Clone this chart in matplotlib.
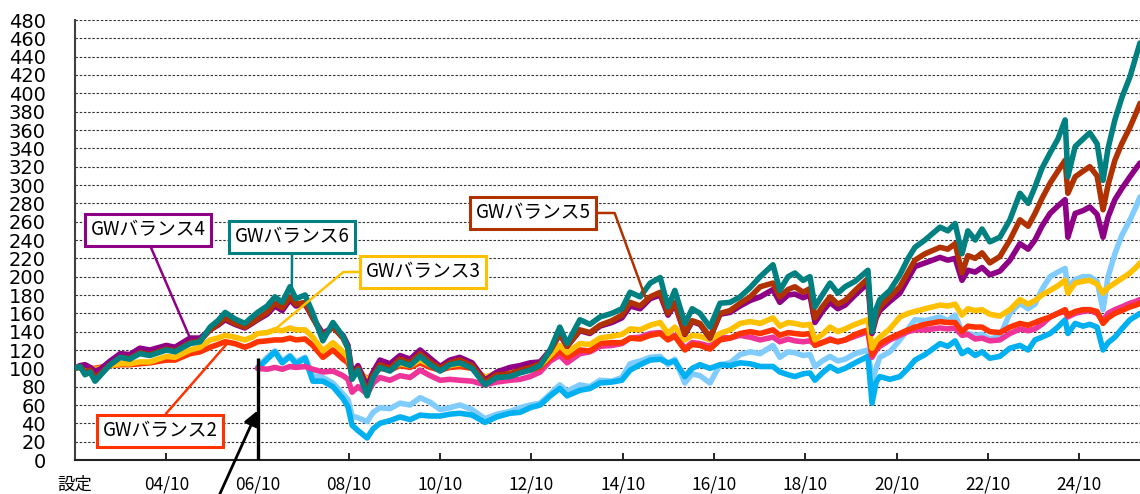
import numpy as np
import matplotlib
matplotlib.use('Agg')
import matplotlib.pyplot as plt

plt.rcParams['font.family'] = ['Noto Sans CJK JP', 'DejaVu Sans']

# years since inception (Oct 2002)
years = [0.00, 0.11, 0.22, 0.33, 0.44, 0.55, 0.77, 0.99, 1.20, 1.42, 1.64, 2.00, 2.19, 2.52, 2.74, 2.96,
         3.13, 3.29, 3.50, 3.72, 3.88, 4.00, 4.21, 4.38, 4.54, 4.71, 4.84, 5.04, 5.21, 5.43, 5.65, 5.87,
         5.98, 6.07, 6.20, 6.40, 6.53, 6.68, 6.90, 7.12, 7.34, 7.56, 7.78, 8.00, 8.21, 8.43, 8.70, 8.98,
         9.24, 9.53, 9.75, 9.97, 10.19, 10.41, 10.62, 10.78, 11.06, 11.28, 11.50, 11.76, 11.98, 12.16,
         12.38, 12.60, 12.82, 12.99, 13.14, 13.36, 13.52, 13.69, 13.91, 14.13, 14.35, 14.57, 14.79, 15.01,
         15.29, 15.44, 15.62, 15.77, 15.95, 16.10, 16.21, 16.37, 16.54, 16.71, 16.87, 17.09, 17.37, 17.46,
         17.55, 17.63, 17.85, 18.07, 18.25, 18.40, 18.62, 18.95, 19.12, 19.28, 19.43, 19.56, 19.72, 19.87,
         20.04, 20.26, 20.48, 20.70, 20.88, 21.03, 21.18, 21.36, 21.53, 21.69, 21.75, 21.91, 22.08, 22.23,
         22.39, 22.52, 22.63, 22.78, 22.93, 23.11, 23.24, 23.33]

gw6 = [100, 102, 93, 96, 86, 92, 104, 112, 110, 116, 114, 120, 118, 127, 129, 145,
       152, 161, 154, 149, 156, 161, 168, 178, 172, 189, 176, 180, 160, 130, 150, 135,
       122, 88, 98, 70, 90, 101, 97, 107, 103, 113, 104, 97, 104, 106, 100, 82,
       90, 91, 95, 98, 103, 120, 145, 127, 153, 148, 156, 160, 165, 183,
       178, 193, 199, 167, 185, 149, 165, 160, 145, 171, 172, 178, 188, 200,
       213, 185, 200, 204, 196, 200, 167, 180, 193, 182, 189, 195, 207, 140,
       165, 175, 185, 202, 220, 232, 240, 254, 250, 258, 225, 250, 240, 252,
       238, 243, 262, 291, 280, 298, 318, 335, 350, 371, 309, 342, 350, 357,
       345, 305, 340, 371, 395, 418, 440, 455]

gw5 = [100, 102, 96, 98, 90, 94, 104, 112, 111, 117, 115, 121, 119, 128, 130, 142,
       148, 155, 149, 145, 150, 154, 161, 171, 166, 178, 170, 172, 155, 135, 145, 133,
       122, 90, 100, 74, 92, 104, 100, 110, 106, 116, 107, 100, 106, 109, 103, 85,
       93, 94, 98, 101, 105, 119, 138, 124, 142, 139, 147, 152, 158, 172,
       168, 178, 183, 160, 172, 138, 152, 149, 134, 160, 163, 171, 178, 189,
       193, 178, 186, 189, 183, 187, 155, 167, 178, 170, 174, 185, 198, 140,
       158, 167, 178, 189, 205, 218, 225, 232, 230, 236, 204, 223, 220, 226,
       215, 222, 240, 262, 255, 269, 285, 302, 315, 327, 291, 309, 315, 320,
       310, 273, 300, 327, 345, 363, 378, 389]

gw4 = [100, 103, 104, 101, 97, 99, 108, 116, 115, 122, 120, 125, 123, 133, 133, 142,
       147, 153, 148, 144, 149, 153, 159, 168, 163, 175, 168, 170, 155, 138, 145, 136,
       125, 95, 103, 80, 96, 109, 105, 114, 110, 120, 111, 102, 109, 112, 106, 87,
       96, 101, 103, 106, 107, 120, 137, 124, 141, 138, 146, 150, 155, 168,
       165, 176, 180, 158, 170, 137, 151, 148, 133, 159, 161, 168, 174, 178,
       186, 172, 180, 181, 177, 180, 150, 162, 172, 165, 169, 180, 193, 138,
       155, 163, 173, 182, 198, 211, 215, 221, 218, 220, 196, 207, 205, 210,
       202, 206, 218, 236, 230, 240, 255, 269, 277, 284, 243, 269, 272, 276,
       268, 243, 265, 284, 296, 309, 318, 324]

gw3 = [100, 101, 101, 100, 99, 100, 103, 105, 105, 107, 107, 113, 112, 120, 123, 131,
       133, 136, 134, 131, 134, 138, 139, 142, 141, 144, 142, 142, 134, 119, 128, 118,
       112, 96, 100, 86, 95, 102, 100, 105, 103, 109, 104, 100, 103, 105, 102, 90,
       95, 96, 98, 100, 103, 114, 125, 117, 127, 126, 133, 135, 137, 143,
       142, 147, 150, 138, 145, 131, 136, 135, 131, 138, 142, 149, 151, 149,
       155, 146, 150, 149, 147, 148, 131, 137, 145, 140, 143, 148, 153, 122,
       130, 134, 143, 156, 160, 162, 165, 169, 168, 170, 158, 165, 163, 164,
       159, 157, 164, 175, 170, 174, 180, 185, 190, 196, 182, 193, 195, 196,
       192, 182, 188, 193, 198, 204, 210, 215]

gw2 = [100, 101, 101, 100, 100, 101, 103, 104, 104, 105, 106, 109, 109, 116, 118, 123,
       126, 129, 127, 123, 126, 129, 130, 131, 131, 133, 131, 132, 125, 112, 120, 110,
       106, 95, 97, 88, 94, 100, 98, 103, 101, 106, 101, 98, 101, 102, 100, 90,
       94, 95, 96, 98, 101, 111, 119, 112, 120, 119, 127, 128, 128, 133,
       132, 136, 138, 131, 135, 120, 126, 125, 121, 131, 133, 138, 140, 138,
       142, 136, 139, 138, 137, 138, 125, 128, 131, 129, 131, 137, 142, 115,
       122, 127, 133, 138, 142, 145, 148, 151, 150, 150, 140, 146, 145, 145,
       140, 139, 145, 149, 147, 150, 153, 156, 160, 164, 158, 162, 164, 164,
       162, 149, 155, 160, 163, 167, 169, 171]

N = None
pink = [N] * 21 + [
       100, 99, 101, 99, 102, 101, 102, 99, 96, 97, 92,
       88, 74, 80, 72, 84, 90, 87, 92, 90, 98, 92, 87, 88, 87, 86, 82,
       85, 87, 88, 91, 96, 108, 114, 106, 116, 118, 124, 125, 127, 133,
       134, 138, 139, 132, 136, 122, 128, 127, 124, 134, 133, 136, 134, 131,
       134, 129, 132, 130, 129, 130, 126, 128, 132, 129, 131, 135, 140, 112,
       120, 124, 131, 136, 140, 142, 142, 144, 143, 144, 136, 137, 132, 133,
       130, 131, 138, 143, 141, 143, 148, 156, 160, 162, 156, 160, 162, 163,
       160, 152, 160, 164, 167, 171, 173, 175]

light_blue = [N] * 21 + [
       101, 112, 119, 108, 114, 107, 112, 92, 90, 84, 72,
       66, 48, 46, 42, 52, 57, 56, 62, 60, 68, 63, 55, 57, 60, 55, 45,
       50, 53, 57, 60, 62, 72, 82, 75, 82, 80, 87, 86, 90, 105,
       108, 112, 113, 104, 110, 84, 94, 92, 84, 104, 106, 115, 118, 116,
       125, 112, 118, 117, 114, 115, 102, 108, 113, 108, 110, 116, 120, 86,
       100, 112, 118, 131, 143, 153, 152, 156, 152, 158, 140, 138, 136, 137,
       132, 135, 160, 171, 165, 170, 186, 200, 205, 209, 188, 197, 200, 200,
       195, 164, 200, 225, 245, 262, 276, 287]

blue = [N] * 21 + [
       100, 110, 118, 106, 113, 105, 111, 86, 86, 80, 67,
       58, 38, 32, 24, 34, 40, 43, 47, 44, 49, 48, 48, 50, 51, 49, 41,
       47, 51, 52, 57, 60, 70, 78, 70, 76, 78, 84, 85, 87, 98,
       104, 109, 110, 106, 108, 91, 100, 104, 100, 104, 103, 106, 105, 102,
       102, 96, 93, 91, 94, 95, 87, 95, 102, 97, 100, 106, 113, 62,
       85, 91, 88, 91, 100, 109, 115, 127, 124, 130, 116, 120, 114, 118,
       111, 113, 122, 125, 120, 131, 134, 138, 145, 153, 138, 149, 146, 148,
       145, 120, 128, 134, 143, 153, 157, 160]

tick_pos = [0, 2, 4, 6, 8, 10, 12, 14, 16, 18, 20, 22]
tick_labels = ['設定', '04/10', '06/10', '08/10', '10/10', '12/10', '14/10',
               '16/10', '18/10', '20/10', '22/10', '24/10']
y_ticks = list(range(0, 481, 20))

col6 = '#008080'
col5 = '#B03200'
col4 = '#8E0085'
col3 = '#FFC000'
col2 = '#FF3300'
colp = '#EE3399'
collb = '#80CCFF'
colb = '#00B0F0'

x = np.array(years, dtype=float)

fig = plt.figure(figsize=(11.4, 4.94), dpi=100)
ax = fig.add_axes([75 / 1140, 34 / 494, 1065 / 1140, 440 / 494])

lw = 4.0
series = [(light_blue, collb), (blue, colb), (pink, colp), (gw2, col2), (gw3, col3),
          (gw4, col4), (gw5, col5), (gw6, col6)]
for vals, c in series:
    y = np.array([np.nan if v is None else v for v in vals], dtype=float)
    ax.plot(x, y, color=c, lw=lw, solid_joinstyle='round', solid_capstyle='round', zorder=3)

ax.set_xlim(0, years[-1])
ax.set_ylim(0, 480)
ax.set_yticks(y_ticks)
ax.set_yticklabels([str(v) for v in y_ticks], fontsize=14,
                   family=['Liberation Sans Narrow', 'DejaVu Sans'])
ax.set_xticks(tick_pos)
ax.set_xticklabels(tick_labels, fontsize=12.5)
ax.tick_params(axis='y', length=0, pad=21)
ax.tick_params(axis='x', direction='in', length=5, width=1.2, pad=11)
for v in y_ticks[1:]:
    ax.axhline(v, color='#333333', lw=0.8, ls=(0, (2.2, 1.6)), zorder=1)
for s in ['top', 'right']:
    ax.spines[s].set_visible(False)
ax.spines['left'].set_color('#404040')
ax.spines['left'].set_linewidth(1.5)
ax.spines['bottom'].set_color('#222222')
ax.spines['bottom'].set_linewidth(1.5)

# start marker line at 06/10
start = years[21]
ax.plot([start, start], [0, 111], color='black', lw=2.4, zorder=5, solid_capstyle='butt')
ax.annotate('', xy=(4.0, 54), xytext=(2.91, -66), xycoords='data', textcoords='data',
            arrowprops=dict(arrowstyle='-|>', color='black', lw=2, mutation_scale=22,
                            shrinkA=0, shrinkB=0),
            annotation_clip=False, zorder=6)

def label(text, txy, target, color, relpos, conn='arc3'):
    ax.annotate(text, xy=target, xycoords='data', xytext=txy, textcoords='axes fraction',
                ha='center', va='center', fontsize=13.5, color='black', zorder=7,
                bbox=dict(boxstyle='square,pad=0.3', fc='white', ec=color, lw=2.2),
                arrowprops=dict(arrowstyle='-', color=color, lw=1.8, shrinkA=0, shrinkB=0,
                                relpos=relpos, connectionstyle=conn))

label('GWバランス4', (0.0685, 0.5227), (2.52, 133), col4, (0.5, 0.0))
label('GWバランス6', (0.2038, 0.5068), (4.75, 189), col6, (0.5, 0.0))
label('GWバランス3', (0.3268, 0.4273), (4.32, 140), col3, (0.0, 0.5),
      'angle,angleA=0,angleB=40,rad=0')
label('GWバランス5', (0.4300, 0.5614), (12.49, 178), col5, (1.0, 0.5),
      'angle,angleA=0,angleB=110,rad=0')
label('GWバランス2', (0.0798, 0.0659), (3.35, 128), col2, (0.5, 1.0))

fig.savefig('out.png', dpi=100)
